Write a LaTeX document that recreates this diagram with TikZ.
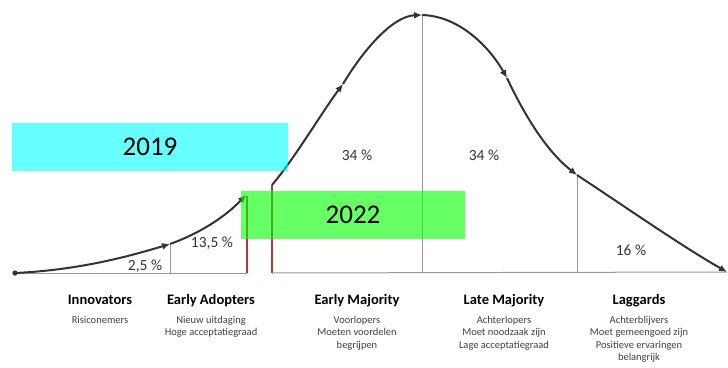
\documentclass[tikz,border=0pt]{standalone}
\usepackage{fontspec}
\setmainfont{Carlito}
\usetikzlibrary{arrows.meta}
\definecolor{curvegray}{HTML}{333333}
\definecolor{axisgray}{HTML}{9A9A9A}
\definecolor{cutred}{HTML}{B23A3A}
\definecolor{boxcyan}{RGB}{0,255,255}
\definecolor{boxgreen}{RGB}{0,255,0}
\begin{document}
\begin{tikzpicture}[x=1pt,y=-1pt,
  curve/.style={draw=curvegray,line width=2pt,-{Latex[length=8pt,width=7pt]}},
  axis/.style={draw=axisgray,line width=1pt},
  cut/.style={draw=cutred,line width=1.1pt},
  pct/.style={font=\fontsize{15.5}{17}\selectfont,text=black!80,inner sep=0pt},
  head/.style={font=\fontsize{14.5}{16}\selectfont\bfseries,inner sep=0pt,anchor=base},
  sub/.style={font=\fontsize{10.5}{12.5}\selectfont,text=black!75,align=center,inner sep=0pt,anchor=north},
  yearbox/.style={fill opacity=0.6,text opacity=1,inner sep=0pt,font=\fontsize{27}{30}\selectfont}]
\useasboundingbox (0,0) rectangle (728,367);
% points
\coordinate (p0) at (15,273);
\coordinate (p1) at (170,244);
\coordinate (p2) at (246,195);
\coordinate (p3) at (272,185);
\coordinate (p4) at (343,84);
\coordinate (p5) at (422,15);
\coordinate (p6) at (507,78);
\coordinate (p7) at (577,175);
\coordinate (p8) at (727,272);
\coordinate (b1) at (170,273);
\coordinate (b2) at (247,273);
\coordinate (b3) at (272,273);
\coordinate (b5) at (422,273);
\coordinate (b7) at (577,273);
\coordinate (c2) at (247,196);
% axis
\draw[axis] (p0) -- (b2);
\draw[axis] (b3) -- (p8);
\draw[axis] (p1) -- (b1);
\draw[axis] (p5) -- (b5);
\draw[axis] (p7) -- (b7);
\draw[cut] (c2) -- (b2);
\draw[cut] (p3) -- (b3);
\fill[curvegray] (p0) circle (2.6);
% curve
\draw[curve] (p0) .. controls (80,270) and (130,256) .. (p1);
\draw[curve] (p1) .. controls (198,234) and (224,218) .. (p2);
\draw[curve] (p3) .. controls (295,158) and (322,112) .. (p4);
\draw[curve] (p4) .. controls (362,52) and (392,16) .. (p5);
\draw[curve] (p5) .. controls (460,16) and (490,48) .. (p6);
\draw[curve] (p6) .. controls (523,112) and (545,150) .. (p7);
\draw[curve] (p7) .. controls (630,210) and (680,245) .. (p8);
% percentages
\node[pct] (t1) at (145,266) {2,5 \%};
\node[pct] (t2) at (212,243) {13,5 \%};
\node[pct] (t3) at (357,155) {34 \%};
\node[pct] (t4) at (484,155) {34 \%};
\node[pct] (t5) at (631,250) {16 \%};
% year boxes
\node[yearbox,fill=boxcyan,minimum width=276pt,minimum height=48pt] (y19) at (150,147) {2019};
\node[yearbox,fill=boxgreen,minimum width=224pt,minimum height=48pt] (y22) at (353,215) {2022};
% headings
\node[head] (h1) at (100,304) {Innovators};
\node[head] (h2) at (211,304) {Early Adopters};
\node[head] (h3) at (357,304) {Early Majority};
\node[head] (h4) at (504,304) {Late Majority};
\node[head] (h5) at (639,304) {Laggards};
\node[sub] (s1) at (100,316) {Risiconemers};
\node[sub] (s2) at (211,316) {Nieuw uitdaging\\Hoge acceptatiegraad};
\node[sub] (s3) at (357,316) {Voorlopers\\Moeten voordelen\\begrijpen};
\node[sub] (s4) at (504,316) {Achterlopers\\Moet noodzaak zijn\\Lage acceptatiegraad};
\node[sub] (s5) at (639,316) {Achterblijvers\\Moet gemeengoed zijn\\Positieve ervaringen\\belangrijk};
\end{tikzpicture}
\end{document}
